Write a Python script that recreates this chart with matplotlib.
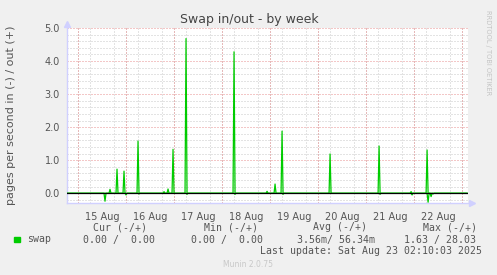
import numpy as np
import matplotlib
matplotlib.use('Agg')
import matplotlib.pyplot as plt

# hours since 15 Aug 00:00, 30-minute samples (week graph resolution)
out_hours = [16.0, 19.5, 23.0, 30.0, 43.0, 45.0, 47.5, 54.0, 78.0, 94.5, 98.5, 102.0, 126.0, 150.5, 166.5, 174.5]
out_values = [0.12, 0.73, 0.67, 1.58, 0.05, 0.13, 1.33, 4.68, 4.28, 0.06, 0.28, 1.88, 1.19, 1.43, 0.05, 1.31]
in_hours = [13.5, 24.0, 30.5, 54.5, 78.5, 102.5, 151.0, 167.0, 175.0, 176.5, 177.5]
in_values = [-0.24, -0.05, -0.02, -0.03, -0.03, -0.03, -0.03, -0.05, -0.27, -0.10, -0.02]

day_labels = ['15 Aug', '16 Aug', '17 Aug', '18 Aug', '19 Aug', '20 Aug', '21 Aug', '22 Aug']
y_ticks = [0.0, 1.0, 2.0, 3.0, 4.0, 5.0]

x_start, x_end = -5.5, 194.8
y_min, y_max = -0.3, 5.0

W, H = 497, 275
fig = plt.figure(figsize=(W / 100, H / 100), dpi=100, facecolor='#F0F0F0')


def px(x, y):
    return x / W, 1 - y / H


ax = fig.add_axes([67 / W, 1 - 203.2 / H, (467.7 - 67) / W, (203.2 - 28) / H])
ax.set_facecolor('white')

# sampled series
t = np.arange(x_start, x_end, 0.5)
out_series = np.zeros_like(t)
in_series = np.zeros_like(t)
for h, v in zip(out_hours, out_values):
    out_series[np.argmin(np.abs(t - h))] = v
for h, v in zip(in_hours, in_values):
    in_series[np.argmin(np.abs(t - h))] = v

ax.plot(t, in_series, color='#00CC00', lw=0.9, zorder=3)
ax.plot(t, out_series, color='#00CC00', lw=0.9, zorder=3)
ax.axhline(0, color='black', lw=0.9, zorder=4)

ax.set_xlim(x_start, x_end)
ax.set_ylim(y_min, y_max)

# grid
dots = (0, (1, 2))
noon = [i * 24 + 12 for i in range(len(day_labels))]
ax.set_xticks(noon, day_labels)
ax.set_xticks(np.arange(0, x_end, 6), minor=True)
ax.set_yticks(y_ticks, [f'{v:.1f}' for v in y_ticks])
ax.set_yticks(np.arange(-0.2, y_max, 0.2), minor=True)
ax.grid(False)
ax.grid(True, which='minor', color='#C8C8C8', lw=0.72, linestyle=dots, zorder=1)
for v in y_ticks:
    ax.axhline(v, color='#E89090', lw=0.72, linestyle=dots, zorder=2)
for d in range(len(day_labels) + 1):
    ax.axvline(d * 24, color='#E89090', lw=0.72, linestyle=dots, zorder=2)

ax.tick_params(which='both', length=0, colors='#555555', labelsize=7, pad=5)
ax.tick_params(axis='x', pad=6)
for s in ['top', 'right']:
    ax.spines[s].set_visible(False)
for s in ['left', 'bottom']:
    ax.spines[s].set_color('#D0D0FF')
    ax.spines[s].set_linewidth(1)

# axis arrows
ax.plot([0], [1.02], marker='^', color='#D0D0FF', ms=5, transform=ax.transAxes, clip_on=False)
ax.plot([1.01], [0], marker='>', color='#D0D0FF', ms=5, transform=ax.transAxes, clip_on=False)

fig.text(*px(249, 19), 'Swap in/out - by week', ha='center', va='center', fontsize=9, color='#444444')
fig.text(*px(11.5, 115), 'pages per second in (-) / out (+)', rotation=90, ha='center', va='center',
         fontsize=8, color='#555555')
fig.text(*px(487.7, 53), 'RRDTOOL / TOBI OETIKER', rotation=270, ha='center', va='center',
         fontsize=4.8, color='#C4C4C4')

mono = dict(family='DejaVu Sans Mono', fontsize=7.1, color='#555555', va='center')
fig.patches.append(plt.Rectangle(px(14, 242), 6 / W, 5 / H, transform=fig.transFigure,
                                 color='#00CC00', figure=fig))
fig.text(*px(27, 239.5), 'swap', ha='left', **mono)
headers = ['Cur (-/+)', 'Min (-/+)', 'Avg (-/+)', 'Max (-/+)']
values = ['0.00 /  0.00', '0.00 /  0.00', '3.56m/ 56.34m', '1.63 / 28.03']
header_x = [93, 204, 313, 423]
value_x = [83, 191, 297, 404]
for hx, hd in zip(header_x, headers):
    fig.text(*px(hx, 227.5), hd, ha='left', **mono)
for vx, vl in zip(value_x, values):
    fig.text(*px(vx, 239.5), vl, ha='left', **mono)
fig.text(*px(482, 251), 'Last update: Sat Aug 23 02:10:03 2025', ha='right', **mono)
fig.text(*px(248, 264.5), 'Munin 2.0.75', ha='center', va='center', fontsize=5.5, color='#C8C8C8')

fig.savefig('out.png', dpi=100, facecolor=fig.get_facecolor())
